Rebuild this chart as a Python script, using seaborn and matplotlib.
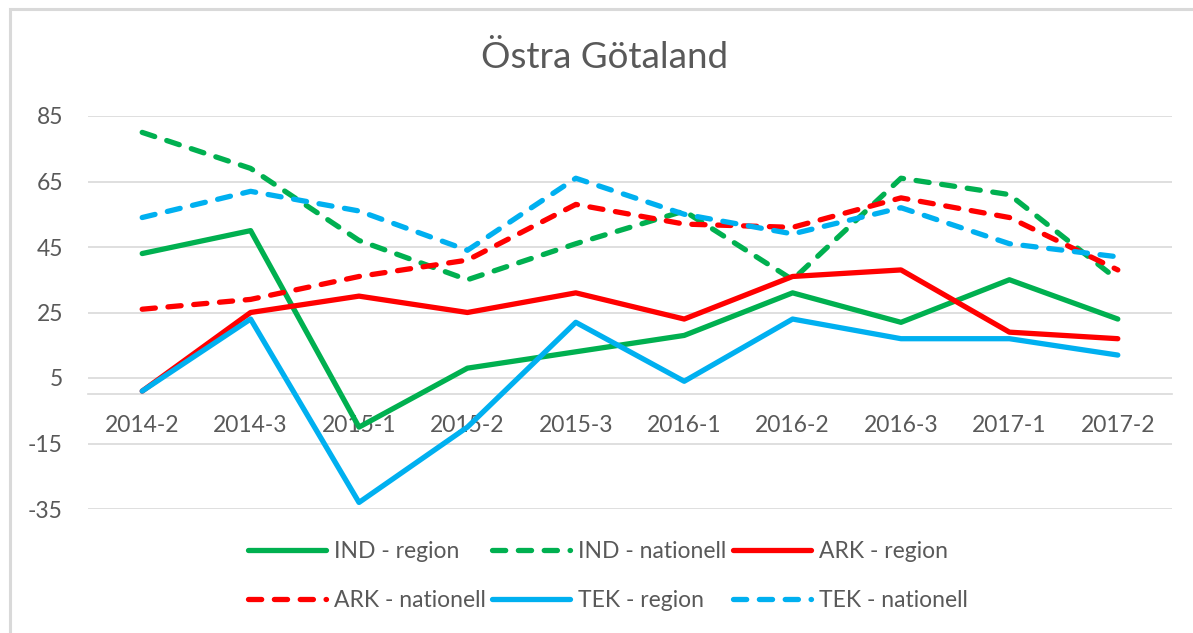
import matplotlib
matplotlib.use("Agg")
import matplotlib.pyplot as plt
from matplotlib.patches import Rectangle
import seaborn as sns
import pandas as pd

# ---- data ----
periods = ["2014-2", "2014-3", "2015-1", "2015-2", "2015-3",
           "2016-1", "2016-2", "2016-3", "2017-1", "2017-2"]
ind_region = [43, 50, -10, 8, 13, 18, 31, 22, 35, 23]
ind_nationell = [80, 69, 47, 35, 46, 56, 35, 66, 61, 35]
ark_region = [1, 25, 30, 25, 31, 23, 36, 38, 19, 17]
ark_nationell = [26, 29, 36, 41, 58, 52, 51, 60, 54, 38]
tek_region = [1, 23, -33, -10, 22, 4, 23, 17, 17, 12]
tek_nationell = [54, 62, 56, 44, 66, 55, 49, 57, 46, 42]
yticks = [-35, -15, 5, 25, 45, 65, 85]
title = "Östra Götaland"

series = [
    ("IND - region", ind_region, "#00B050", False),
    ("IND - nationell", ind_nationell, "#00B050", True),
    ("ARK - region", ark_region, "#FF0000", False),
    ("ARK - nationell", ark_nationell, "#FF0000", True),
    ("TEK - region", tek_region, "#00B0F0", False),
    ("TEK - nationell", tek_nationell, "#00B0F0", True),
]

sns.set_theme(style="white")
plt.rcParams["font.family"] = ["Lato", "DejaVu Sans"]

W, H = 1193, 633
fig = plt.figure(figsize=(W / 100, H / 100), dpi=100)
fig.patch.set_facecolor("white")
ax = fig.add_axes([88 / W, 1 - 509 / H, (1172 - 88) / W, (509 - 116) / H])

grid_c = "#D9D9D9"
text_c = "#595959"

handles = {}
for name, vals, color, dashed in series:
    df = pd.DataFrame({"x": list(range(len(periods))), "y": vals})
    n_before = len(ax.lines)
    sns.lineplot(data=df, x="x", y="y", ax=ax, color=color, lw=3.8,
                 sort=False, label=name, legend=False)
    line = ax.lines[n_before]
    line.set_solid_capstyle("round")
    line.set_solid_joinstyle("round")
    line.set_dash_capstyle("round")
    if dashed:
        line.set_dashes((2.5, 2.4))
    handles[name] = line

ax.set_xlim(-0.5, len(periods) - 0.5)
ax.set_ylim(-35, 85)
ax.set_yticks(yticks)
ax.set_yticklabels([str(v) for v in yticks])
ax.set_xticks(range(len(periods)))
ax.set_xticklabels(periods)
ax.set_xlabel("")
ax.set_ylabel("")

ax.grid(axis="y", color=grid_c, lw=1.2)
ax.grid(axis="x", visible=False)
ax.set_axisbelow(True)
for s in ["top", "right", "left"]:
    ax.spines[s].set_visible(False)
ax.spines["bottom"].set_position(("data", 0))
ax.spines["bottom"].set_color(grid_c)
ax.spines["bottom"].set_linewidth(1.2)
ax.spines["bottom"].set_zorder(0.5)
ax.tick_params(axis="x", length=0, pad=15, labelsize=16.5, labelcolor=text_c)
ax.tick_params(axis="y", length=0, pad=18, labelsize=16.5, labelcolor=text_c)
ax.set_facecolor("white")

fig.text(605 / W, 1 - 57 / H, title, ha="center", va="center",
         fontsize=26.5, color=text_c)

order = ["IND - region", "ARK - nationell", "IND - nationell",
         "TEK - region", "ARK - region", "TEK - nationell"]
leg = fig.legend([handles[k] for k in order], order, ncol=3,
                 loc="center", bbox_to_anchor=(608 / W, 1 - 576 / H),
                 frameon=False, fontsize=16.5, handlelength=3.4,
                 handletextpad=0.35, columnspacing=0.3, labelspacing=1.25,
                 borderpad=0)
for t in leg.get_texts():
    t.set_color(text_c)

fig.add_artist(Rectangle((9.5 / W, -0.1), 1.2, (H - 9.5) / H + 0.1,
                         transform=fig.transFigure, fill=False,
                         ec=grid_c, lw=2.2))

fig.savefig("out.png", dpi=100, facecolor="white")
